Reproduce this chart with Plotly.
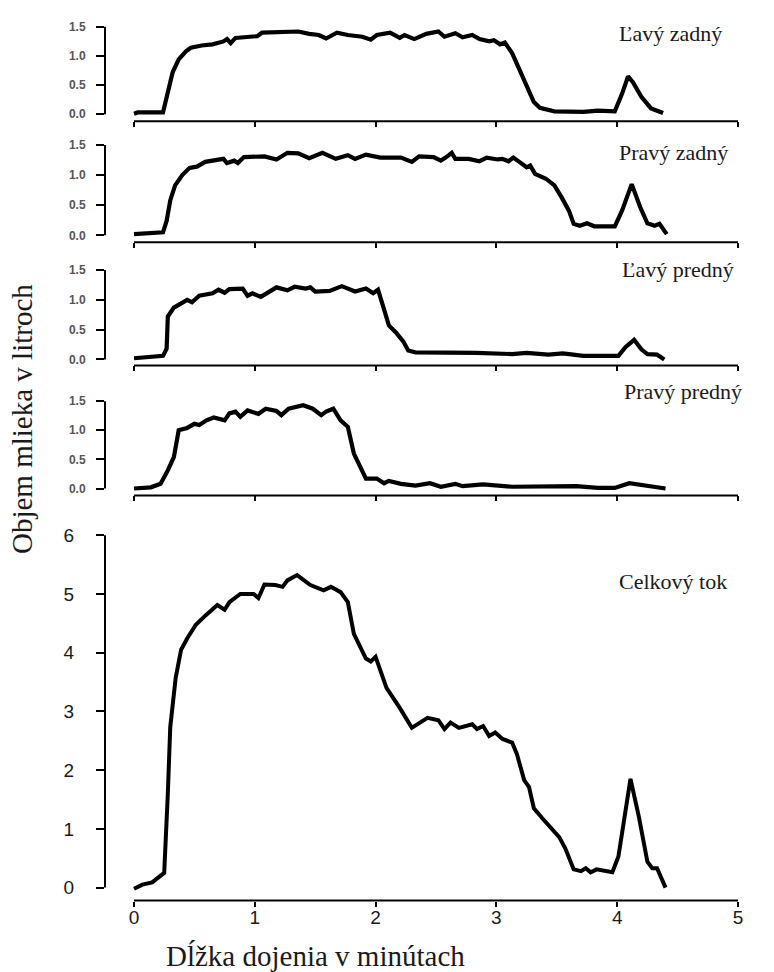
import plotly.graph_objects as go

# ---------------- data ----------------
lz_x = [0.0, 0.03, 0.24, 0.27, 0.32, 0.37, 0.43, 0.47, 0.56, 0.65, 0.74, 0.77, 0.80, 0.84, 0.94, 1.02, 1.06,
        1.21, 1.36, 1.45, 1.53, 1.59, 1.68, 1.77, 1.89, 1.96, 2.01, 2.12, 2.20, 2.24, 2.32, 2.42, 2.52, 2.57,
        2.66, 2.72, 2.80, 2.86, 2.94, 2.98, 3.03, 3.07, 3.13, 3.19, 3.25, 3.31, 3.36, 3.48, 3.72, 3.84, 3.98,
        4.04, 4.09, 4.13, 4.20, 4.28, 4.38]
lz_y = [0.01, 0.03, 0.03, 0.27, 0.72, 0.94, 1.08, 1.14, 1.18, 1.20, 1.25, 1.29, 1.22, 1.31, 1.33, 1.34, 1.40,
        1.41, 1.42, 1.38, 1.36, 1.30, 1.40, 1.36, 1.33, 1.28, 1.36, 1.40, 1.31, 1.36, 1.29, 1.38, 1.42, 1.33,
        1.39, 1.32, 1.36, 1.29, 1.25, 1.27, 1.20, 1.23, 1.05, 0.77, 0.49, 0.21, 0.11, 0.05, 0.04, 0.06, 0.05,
        0.35, 0.65, 0.55, 0.30, 0.10, 0.02]

pz_x = [0.0, 0.14, 0.24, 0.27, 0.30, 0.34, 0.40, 0.46, 0.52, 0.59, 0.68, 0.74, 0.77, 0.83, 0.86, 0.91, 1.08,
        1.18, 1.27, 1.36, 1.45, 1.56, 1.67, 1.77, 1.83, 1.92, 2.04, 2.21, 2.30, 2.36, 2.48, 2.54, 2.58, 2.63,
        2.66, 2.77, 2.86, 2.92, 3.01, 3.05, 3.10, 3.14, 3.19, 3.25, 3.28, 3.32, 3.41, 3.48, 3.54, 3.60, 3.64,
        3.69, 3.75, 3.81, 3.98, 4.04, 4.12, 4.19, 4.25, 4.31, 4.35, 4.41]
pz_y = [0.02, 0.03, 0.05, 0.24, 0.58, 0.83, 1.00, 1.12, 1.14, 1.22, 1.26, 1.27, 1.20, 1.24, 1.20, 1.30, 1.31,
        1.26, 1.37, 1.36, 1.28, 1.37, 1.27, 1.33, 1.27, 1.34, 1.29, 1.29, 1.22, 1.31, 1.30, 1.24, 1.29, 1.37,
        1.27, 1.27, 1.23, 1.29, 1.26, 1.27, 1.23, 1.29, 1.22, 1.13, 1.16, 1.02, 0.94, 0.83, 0.63, 0.41, 0.19,
        0.16, 0.20, 0.15, 0.15, 0.41, 0.85, 0.47, 0.20, 0.16, 0.19, 0.02]

lp_x = [0.0, 0.14, 0.24, 0.27, 0.28, 0.33, 0.40, 0.44, 0.48, 0.54, 0.65, 0.70, 0.75, 0.79, 0.90, 0.94, 0.98,
        1.05, 1.18, 1.27, 1.33, 1.42, 1.46, 1.50, 1.62, 1.72, 1.83, 1.92, 1.98, 2.02, 2.07, 2.11, 2.17, 2.23,
        2.27, 2.33, 2.83, 3.13, 3.25, 3.43, 3.55, 3.72, 4.01, 4.07, 4.14, 4.20, 4.25, 4.33, 4.39]
lp_y = [0.02, 0.04, 0.06, 0.18, 0.72, 0.87, 0.96, 1.00, 0.96, 1.07, 1.11, 1.17, 1.12, 1.18, 1.19, 1.07, 1.11,
        1.05, 1.21, 1.16, 1.22, 1.19, 1.21, 1.14, 1.15, 1.23, 1.14, 1.19, 1.11, 1.17, 0.84, 0.57, 0.45, 0.30,
        0.15, 0.12, 0.11, 0.09, 0.11, 0.08, 0.10, 0.06, 0.06, 0.21, 0.33, 0.17, 0.09, 0.08, 0.0]

pp_x = [0.0, 0.14, 0.22, 0.28, 0.33, 0.37, 0.44, 0.50, 0.54, 0.60, 0.66, 0.75, 0.79, 0.84, 0.88, 0.94, 1.03,
        1.09, 1.18, 1.22, 1.28, 1.40, 1.48, 1.55, 1.59, 1.65, 1.71, 1.77, 1.82, 1.86, 1.92, 2.01, 2.07, 2.11,
        2.21, 2.33, 2.45, 2.54, 2.66, 2.72, 2.89, 3.13, 3.43, 3.66, 3.84, 3.98, 4.10, 4.22, 4.40]
pp_y = [0.0, 0.02, 0.08, 0.31, 0.54, 1.00, 1.04, 1.11, 1.09, 1.17, 1.22, 1.17, 1.29, 1.32, 1.23, 1.34, 1.28,
        1.37, 1.33, 1.26, 1.37, 1.43, 1.37, 1.26, 1.32, 1.37, 1.17, 1.06, 0.60, 0.43, 0.17, 0.17, 0.09, 0.13,
        0.08, 0.05, 0.09, 0.03, 0.08, 0.04, 0.07, 0.03, 0.03, 0.04, 0.01, 0.01, 0.09, 0.05, 0.0]

ct_x = [0.0, 0.07, 0.15, 0.19, 0.25, 0.28, 0.30, 0.345, 0.39, 0.44, 0.51, 0.59, 0.69, 0.75, 0.79, 0.88, 0.99,
        1.03, 1.08, 1.17, 1.23, 1.27, 1.35, 1.46, 1.57, 1.63, 1.71, 1.77, 1.82, 1.92, 1.96, 2.00, 2.09, 2.20,
        2.30, 2.43, 2.52, 2.57, 2.62, 2.69, 2.80, 2.84, 2.89, 2.94, 2.99, 3.05, 3.13, 3.17, 3.23, 3.27, 3.31,
        3.38, 3.46, 3.52, 3.57, 3.64, 3.70, 3.74, 3.78, 3.83, 3.96, 4.01, 4.11, 4.18, 4.25, 4.29, 4.33, 4.40]
ct_y = [-0.02, 0.05, 0.09, 0.15, 0.25, 1.60, 2.73, 3.57, 4.05, 4.24, 4.47, 4.63, 4.81, 4.73, 4.86, 5.00, 5.00,
        4.93, 5.16, 5.15, 5.12, 5.23, 5.32, 5.15, 5.06, 5.12, 5.03, 4.86, 4.32, 3.90, 3.85, 3.93, 3.40, 3.06,
        2.72, 2.89, 2.85, 2.70, 2.81, 2.72, 2.78, 2.70, 2.75, 2.58, 2.64, 2.53, 2.47, 2.27, 1.83, 1.71, 1.35,
        1.18, 1.01, 0.86, 0.67, 0.31, 0.28, 0.33, 0.26, 0.31, 0.26, 0.53, 1.85, 1.20, 0.44, 0.33, 0.33, 0.0]

panel_labels = ["Ľavý zadný", "Pravý zadný", "Ľavý predný", "Pravý predný", "Celkový tok"]
small_ticks = [0.0, 0.5, 1.0, 1.5]
big_ticks = [0, 1, 2, 3, 4, 5, 6]
x_ticks = [0, 1, 2, 3, 4, 5]
y_title = "Objem mlieka v litroch"
x_title = "Dĺžka dojenia v minútach"

series = [(lz_x, lz_y), (pz_x, pz_y), (lp_x, lp_y), (pp_x, pp_y), (ct_x, ct_y)]

# ---------------- layout geometry (pixels) ----------------
W, H = 774, 972
X0_PIX, X5_PIX = 134, 738        # pixel of x=0 and x=5
LEFT_PIX, RIGHT_PIX = 105, 745   # plot domain
ppx = (X5_PIX - X0_PIX) / 5.0
xr = [(LEFT_PIX - X0_PIX) / ppx, (RIGHT_PIX - X0_PIX) / ppx]

# (pixel of value 0, pixel of top tick value, top tick value, pixel of x-axis line)
panels = [(109, 21, 1.5, 116), (231, 140, 1.5, 238), (356, 266, 1.5, 362),
          (486, 398, 1.5, 493), (888, 533, 6.0, 901)]
label_y = [28, 148, 265, 388, 580]
label_x = [617, 617, 620, 622, 617]

fig = go.Figure()
layout = dict(width=W, height=H, margin=dict(l=0, r=0, t=0, b=0),
              paper_bgcolor="white", plot_bgcolor="white", showlegend=False)
shapes = []
annotations = []

for i, ((xs, ys), (p0, ptop, vtop, paxis)) in enumerate(zip(series, panels)):
    n = "" if i == 0 else str(i + 1)
    ppu = (p0 - ptop) / vtop
    dom_top = ptop - 4
    yr = [-(paxis - p0) / ppu, vtop + 4 / ppu]
    big = (i == 4)
    fig.add_trace(go.Scatter(x=xs, y=ys, mode="lines", xaxis="x" + n, yaxis="y" + n,
                             line=dict(color="black", width=4.0 if big else 4.2), hoverinfo="skip"))
    layout["xaxis" + n] = dict(
        domain=[LEFT_PIX / W, RIGHT_PIX / W], range=xr, anchor="y" + n,
        showgrid=False, zeroline=False, showline=False,
        tickmode="array", tickvals=x_ticks, ticktext=[str(v) for v in x_ticks],
        ticks="outside", ticklen=5, tickwidth=1.5, tickcolor="black",
        showticklabels=big, ticklabelstandoff=-5,
        tickfont=dict(family="Liberation Sans, Arial", size=19, color="#1a1a1a"),
    )
    layout["yaxis" + n] = dict(
        domain=[1 - paxis / H, 1 - dom_top / H], range=yr, anchor="x" + n,
        showgrid=False, zeroline=False, showline=False,
        tickmode="array",
        tickvals=big_ticks if big else small_ticks,
        ticktext=[str(v) for v in big_ticks] if big else ["%.1f" % v for v in small_ticks],
        ticks="outside", ticklen=8, tickwidth=1.5, tickcolor="black",
        ticklabelstandoff=18 if big else 8,
        tickfont=dict(family="Liberation Sans, Arial", size=19 if big else 12,
                      color="#1a1a1a" if big else "#555555",
                      weight="normal" if big else "bold"),
    )
    xa = "x" + n
    ya = "y" + n
    # detached R-style spines
    shapes.append(dict(type="line", xref=xa + " domain", yref=ya, x0=0, x1=0, y0=0, y1=vtop,
                       line=dict(color="black", width=2)))
    shapes.append(dict(type="line", xref=xa, yref=ya + " domain", x0=x_ticks[0], x1=x_ticks[-1], y0=0, y1=0,
                       line=dict(color="black", width=2)))
    annotations.append(dict(text=panel_labels[i], xref="paper", yref="paper",
                            x=label_x[i] / W, y=1 - label_y[i] / H, xanchor="left", yanchor="middle",
                            showarrow=False,
                            font=dict(family="Liberation Serif, Times New Roman", size=22, color="#1a1a1a")))

annotations.append(dict(text=y_title, xref="paper", yref="paper", x=22 / W, y=1 - 416 / H,
                        textangle=-90, xanchor="center", yanchor="middle", showarrow=False,
                        font=dict(family="Liberation Serif, Times New Roman", size=29, color="#1a1a1a")))
annotations.append(dict(text=x_title, xref="paper", yref="paper", x=315 / W, y=1 - 957 / H,
                        xanchor="center", yanchor="middle", showarrow=False,
                        font=dict(family="Liberation Serif, Times New Roman", size=29, color="#1a1a1a")))

layout["shapes"] = shapes
layout["annotations"] = annotations
fig.update_layout(**layout)
fig.write_html("out.html")
